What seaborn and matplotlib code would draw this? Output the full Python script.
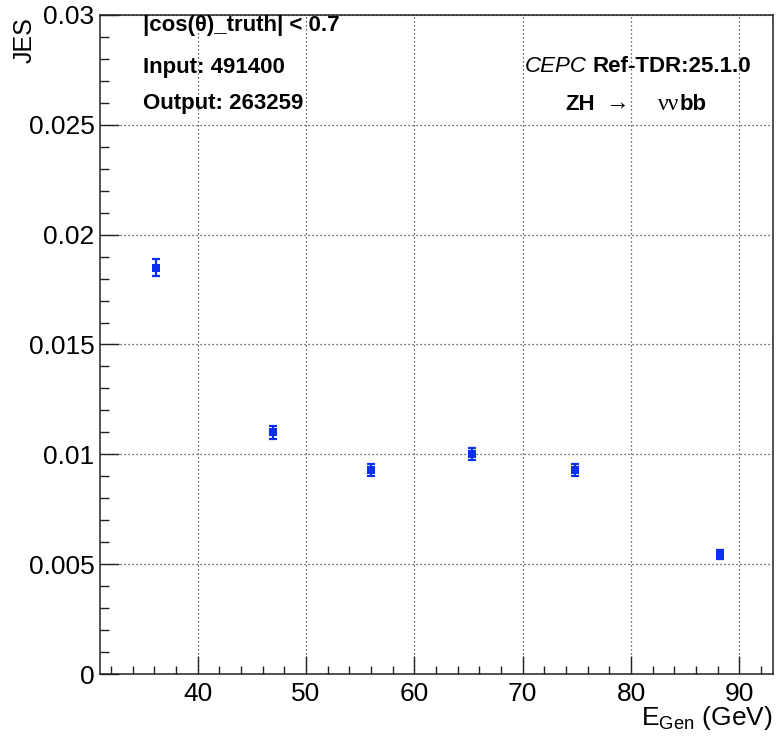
import matplotlib
matplotlib.use("Agg")
import matplotlib.pyplot as plt
from matplotlib.ticker import MultipleLocator, FixedLocator
import seaborn as sns
import pandas as pd

# Jet energy scale vs generated energy, ZH -> vvbb
e_gen = [36.2, 47.0, 56.0, 65.3, 74.8, 88.2]
jes = [0.0185, 0.0110, 0.0093, 0.0100, 0.0093, 0.00545]
jes_err = [0.0004, 0.00028, 0.00028, 0.00028, 0.00028, 0.0002]

y_ticks = [0, 0.005, 0.01, 0.015, 0.02, 0.025, 0.03]
y_tick_labels = ["0", "0.005", "0.01", "0.015", "0.02", "0.025", "0.03"]
x_ticks = [40, 50, 60, 70, 80, 90]

sns.set_style("white")
plt.rcParams["font.family"] = ["Liberation Sans", "DejaVu Sans"]
plt.rcParams["mathtext.fontset"] = "custom"
plt.rcParams["mathtext.rm"] = "Liberation Sans"
plt.rcParams["mathtext.it"] = "Liberation Sans:italic"
plt.rcParams["text.color"] = "black"
plt.rcParams["xtick.color"] = "black"
plt.rcParams["ytick.color"] = "black"

df = pd.DataFrame({"E": e_gen, "JES": jes, "err": jes_err})

fig = plt.figure(figsize=(7.79, 7.37), dpi=100)
ax = fig.add_axes([100 / 779, 1 - 674 / 737, 673 / 779, 659 / 737])

blue = "#0a2ff0"
ax.errorbar(df["E"], df["JES"], yerr=df["err"], fmt="none", ecolor=blue,
            elinewidth=1.6, capsize=3.2, capthick=1.6, zorder=3)
sns.scatterplot(data=df, x="E", y="JES", marker="s", s=26, color=blue,
                edgecolor=blue, linewidth=0, ax=ax, zorder=4)

ax.set_xlim(31.0, 93.1)
ax.set_ylim(0, 0.03)
ax.set_xlabel("")
ax.set_ylabel("")

ax.xaxis.set_major_locator(FixedLocator(x_ticks))
ax.xaxis.set_minor_locator(MultipleLocator(2))
ax.set_yticks(y_ticks)
ax.set_yticklabels(y_tick_labels)
ax.yaxis.set_minor_locator(MultipleLocator(0.001))

ax.tick_params(axis="both", which="both", direction="in", bottom=True, left=True,
               top=False, right=False, color="#222222", labelsize=19,
               labelcolor="black")
ax.tick_params(axis="x", which="major", length=13, width=1.0, pad=6)
ax.tick_params(axis="x", which="minor", length=6, width=1.0)
ax.tick_params(axis="y", which="major", length=14, width=1.0, pad=4)
ax.tick_params(axis="y", which="minor", length=6.5, width=1.0)

ax.grid(True, which="major", color="#333333", linestyle=(0, (1, 2.2)), linewidth=0.9)
for sp in ax.spines.values():
    sp.set_color("#222222")
    sp.set_linewidth(1.1)

# axis titles
fig.text(773 / 779, 1 - 718 / 737, r"$\mathregular{E_{Gen}}$ (GeV)", ha="right",
         va="center", fontsize=19)
fig.text(25 / 779, 1 - 17 / 737, "JES", rotation=90, ha="center", va="top", fontsize=18)

# annotations
fs = 16
fig.text(143 / 779, 1 - 26 / 737, "|cos(θ)_truth| < 0.7", ha="left", va="center",
         fontsize=fs, fontweight="bold")
fig.text(143 / 779, 1 - 67 / 737, "Input: 491400", ha="left", va="center",
         fontsize=fs, fontweight="bold")
fig.text(143 / 779, 1 - 104 / 737, "Output: 263259", ha="left", va="center",
         fontsize=fs, fontweight="bold")
fig.text(587 / 779, 1 - 67 / 737, "CEPC", ha="right", va="center",
         fontsize=fs, fontstyle="italic")
fig.text(593 / 779, 1 - 67 / 737, "Ref-TDR:25.1.0", ha="left", va="center",
         fontsize=fs, fontweight="bold")
fig.text(565 / 779, 1 - 104 / 737, "ZH", ha="left", va="center",
         fontsize=fs, fontweight="bold")
fig.text(617 / 779, 1 - 103 / 737, "→", ha="center", va="center", fontsize=fs + 1)
fig.text(679 / 779, 1 - 105 / 737, "νν", ha="right", va="center", fontsize=fs + 1,
         family=["Liberation Serif", "DejaVu Serif"])
fig.text(680 / 779, 1 - 104 / 737, "bb", ha="left", va="center",
         fontsize=fs, fontweight="bold")

fig.savefig("out.png", dpi=100)
